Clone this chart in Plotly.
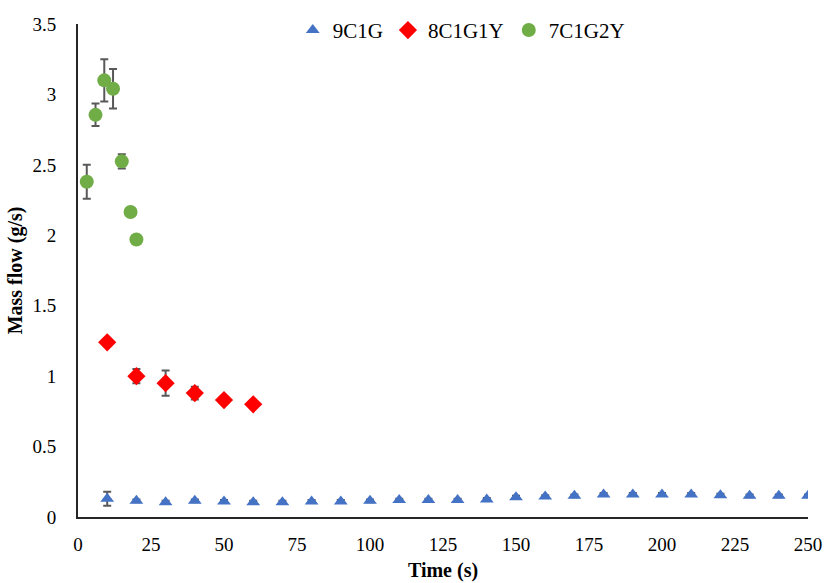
import plotly.graph_objects as go

# ---- data ----
t_9c1g = [10, 20, 30, 40, 50, 60, 70, 80, 90, 100, 110, 120, 130, 140, 150,
          160, 170, 180, 190, 200, 210, 220, 230, 240, 250]
m_9c1g = [0.13, 0.115, 0.105, 0.115, 0.11, 0.105, 0.105, 0.11, 0.11, 0.115,
          0.12, 0.12, 0.12, 0.125, 0.14, 0.145, 0.15, 0.16, 0.16, 0.16,
          0.16, 0.155, 0.15, 0.15, 0.15]
e_9c1g = [0.05, 0.01, 0.01, 0.01, 0.01, 0.01, 0.01, 0.01, 0.01, 0.01,
          0.01, 0.01, 0.01, 0.01, 0.01, 0.01, 0.01, 0.01, 0.01, 0.01,
          0.01, 0.01, 0.01, 0.01, 0.01]

t_8c1g1y = [10, 20, 30, 40, 50, 60]
m_8c1g1y = [1.24, 1.0, 0.95, 0.88, 0.83, 0.80]
e_8c1g1y = [0.0, 0.05, 0.09, 0.045, 0.02, 0.0]

t_7c1g2y = [3, 6, 9, 12, 15, 18, 20]
m_7c1g2y = [2.38, 2.855, 3.10, 3.04, 2.525, 2.165, 1.97]
e_7c1g2y = [0.12, 0.08, 0.15, 0.14, 0.05, 0.0, 0.0]

x_ticks = [0, 25, 50, 75, 100, 125, 150, 175, 200, 225, 250]
y_ticks = [0, 0.5, 1, 1.5, 2, 2.5, 3, 3.5]
y_tick_text = ["0", "0.5", "1", "1.5", "2", "2.5", "3", "3.5"]

FONT = "Liberation Serif"
ERR = "#595959"

fig = go.Figure()

fig.add_trace(go.Scatter(
    x=t_9c1g, y=m_9c1g, name="9C1G", mode="markers",
    marker=dict(symbol="triangle-up", size=12, color="#4472C4"),
    error_y=dict(type="data", array=e_9c1g, color=ERR, thickness=2, width=4),
))
fig.add_trace(go.Scatter(
    x=t_8c1g1y, y=m_8c1g1y, name="8C1G1Y", mode="markers",
    marker=dict(symbol="diamond", size=14, color="#FF0000"),
    error_y=dict(type="data", array=e_8c1g1y, color=ERR, thickness=2, width=4),
))
fig.add_trace(go.Scatter(
    x=t_7c1g2y, y=m_7c1g2y, name="7C1G2Y", mode="markers",
    marker=dict(symbol="circle", size=14, color="#70AD47"),
    error_y=dict(type="data", array=e_7c1g2y, color=ERR, thickness=2, width=4),
))

fig.update_layout(
    width=826, height=583,
    margin=dict(l=78, r=18, t=24, b=66, autoexpand=False),
    paper_bgcolor="white", plot_bgcolor="white",
    font=dict(family=FONT, size=19, color="black"),
    legend=dict(orientation="h", x=0.525, xanchor="center", y=0.987, yanchor="middle",
                font=dict(family=FONT, size=21, color="black"),
                bgcolor="rgba(0,0,0,0)", itemclick=False),
    xaxis=dict(range=[0, 250], tickvals=x_ticks, showgrid=False, zeroline=False,
               showline=True, linecolor="#262626", linewidth=2, ticks="",
               ticklabelstandoff=9,
               tickfont=dict(family=FONT, size=19, color="black"),
               title=dict(text="<b>Time (s)</b>", font=dict(family=FONT, size=20, color="black"),
                          standoff=9)),
    yaxis=dict(range=[0, 3.5], tickvals=y_ticks, ticktext=y_tick_text,
               showgrid=False, zeroline=False,
               showline=True, linecolor="#262626", linewidth=2, ticks="",
               ticklabelstandoff=16,
               tickfont=dict(family=FONT, size=19, color="black"),
               title=dict(text="<b>Mass flow (g/s)</b>", font=dict(family=FONT, size=20, color="black"),
                          standoff=4)),
)

fig.write_html("out.html")
